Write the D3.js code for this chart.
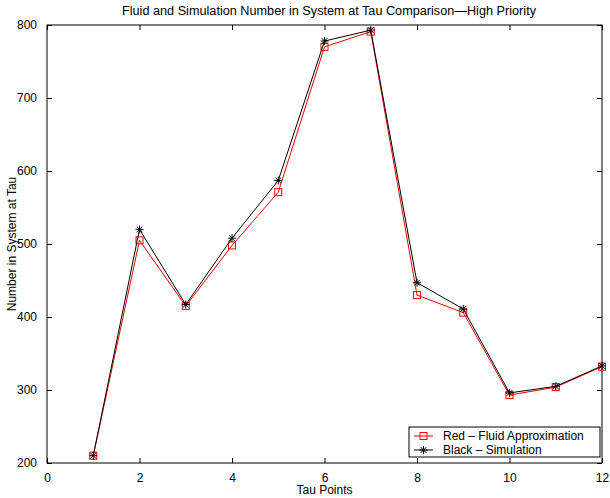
<!DOCTYPE html>
<html>
<head>
<meta charset="utf-8">
<script src="https://cdn.jsdelivr.net/npm/d3@7"></script>
<style>
body { margin: 0; background: #fff; }
text { font-family: "Liberation Sans Narrow", "Liberation Sans", Arial, sans-serif; }
</style>
</head>
<body>
<div id="chart"></div>
<script>
var tau = [1, 2, 3, 4, 5, 6, 7, 8, 9, 10, 11, 12];
var fluid = [210, 505, 415, 498, 571, 770, 791, 430, 406, 293, 304, 332];
var simulation = [210, 520, 417, 508, 587, 778, 793, 447, 411, 296, 305, 333];
var xTicks = [0, 2, 4, 6, 8, 10, 12];
var yTicks = [200, 300, 400, 500, 600, 700, 800];

(function () {
var width = 610, height = 498;
var left = 47, right = 602, top = 25, bottom = 463;

var svg = d3.select("#chart")
.append("svg")
.attr("width", width)
.attr("height", height);

var x = d3.scaleLinear().domain([0, 12]).range([left, right]);
var y = d3.scaleLinear().domain([200, 800]).range([bottom, top]);

// frame
svg.append("rect")
.attr("x", left).attr("y", top)
.attr("width", right - left).attr("height", bottom - top)
.attr("fill", "none").attr("stroke", "#000").attr("stroke-width", 1);

// ticks pointing inward on all four sides
function styleAxis(g) {
	g.select(".domain").remove();
	g.selectAll("line").attr("stroke", "#000");
	g.selectAll("text").attr("font-size", 12).attr("fill", "#000");
}

svg.append("g")
.attr("transform", "translate(0," + bottom + ")")
.call(d3.axisBottom(x).tickValues(xTicks).tickSize(-5).tickPadding(10).tickFormat(d3.format("d")))
.call(styleAxis);

svg.append("g")
.attr("transform", "translate(0," + top + ")")
.call(d3.axisTop(x).tickValues(xTicks).tickSize(-5).tickFormat(""))
.call(styleAxis);

svg.append("g")
.attr("transform", "translate(" + left + ",0)")
.call(d3.axisLeft(y).tickValues(yTicks).tickSize(-5).tickPadding(10).tickFormat(d3.format("d")))
.call(styleAxis);

svg.append("g")
.attr("transform", "translate(" + right + ",0)")
.call(d3.axisRight(y).tickValues(yTicks).tickSize(-5).tickFormat(""))
.call(styleAxis);

var line = d3.line()
.x(function (d) { return x(d[0]); })
.y(function (d) { return y(d[1]); });

var redData = tau.map(function (t, i) { return [t, fluid[i]]; });
var blackData = tau.map(function (t, i) { return [t, simulation[i]]; });

function squareAt(g, cx, cy) {
	g.append("rect")
	.attr("x", cx - 3.5).attr("y", cy - 3.5)
	.attr("width", 7).attr("height", 7)
	.attr("fill", "none").attr("stroke", "red").attr("stroke-width", 1);
}

function starAt(g, cx, cy) {
	var r = 4, d = 2.8;
	var p = "M" + (cx - r) + "," + cy + "L" + (cx + r) + "," + cy +
		"M" + cx + "," + (cy - r) + "L" + cx + "," + (cy + r) +
		"M" + (cx - d) + "," + (cy - d) + "L" + (cx + d) + "," + (cy + d) +
		"M" + (cx - d) + "," + (cy + d) + "L" + (cx + d) + "," + (cy - d);
	g.append("path").attr("d", p).attr("stroke", "#000").attr("stroke-width", 1).attr("fill", "none");
}

svg.append("path")
.datum(redData)
.attr("d", line)
.attr("fill", "none").attr("stroke", "red").attr("stroke-width", 1);

var redMarks = svg.append("g");
redData.forEach(function (d) { squareAt(redMarks, x(d[0]), y(d[1])); });

svg.append("path")
.datum(blackData)
.attr("d", line)
.attr("fill", "none").attr("stroke", "#000").attr("stroke-width", 1);

var blackMarks = svg.append("g");
blackData.forEach(function (d) { starAt(blackMarks, x(d[0]), y(d[1])); });

// title and labels
svg.append("text")
.attr("x", 122).attr("y", 15)
.attr("font-size", 12)
.attr("textLength", 414).attr("lengthAdjust", "spacingAndGlyphs")
.text("Fluid and Simulation Number in System at Tau Comparison\u2014High Priority");

svg.append("text")
.attr("x", (left + right) / 2).attr("y", 494)
.attr("text-anchor", "middle").attr("font-size", 12)
.text("Tau Points");

svg.append("text")
.attr("transform", "translate(16," + ((top + bottom) / 2) + ") rotate(-90)")
.attr("text-anchor", "middle").attr("font-size", 12)
.text("Number in System at Tau");

// legend
var lg = svg.append("g");
lg.append("rect")
.attr("x", 409).attr("y", 427)
.attr("width", 191).attr("height", 30)
.attr("fill", "#fff").attr("stroke", "#000").attr("stroke-width", 1);

lg.append("line").attr("x1", 414).attr("x2", 433).attr("y1", 436).attr("y2", 436)
.attr("stroke", "red");
squareAt(lg, 423.5, 436);
lg.append("text").attr("x", 443).attr("y", 440).attr("font-size", 12)
.text("Red \u2013 Fluid Approximation");

lg.append("line").attr("x1", 414).attr("x2", 433).attr("y1", 450).attr("y2", 450)
.attr("stroke", "#000");
starAt(lg, 423.5, 450);
lg.append("text").attr("x", 443).attr("y", 454).attr("font-size", 12)
.text("Black \u2013 Simulation");
})();
</script>
</body>
</html>
